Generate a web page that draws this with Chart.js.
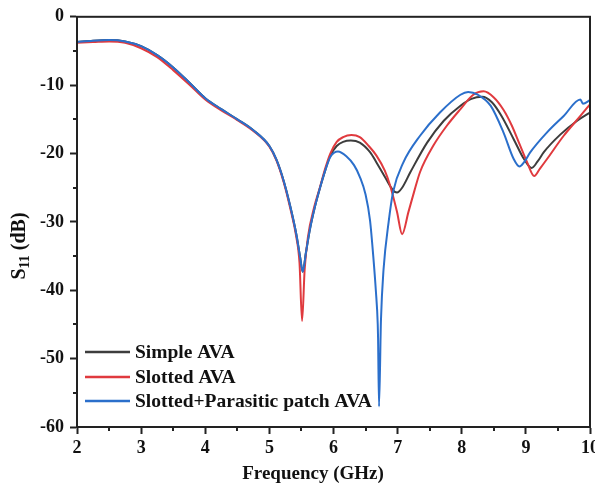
<!DOCTYPE html>
<html>
<head>
<meta charset="utf-8">
<script src="https://cdn.jsdelivr.net/npm/chart.js@4.4.0/dist/chart.umd.min.js"></script>
<style>
    html, body { margin: 0; padding: 0; background: #fff; overflow: hidden; }
    #wrap { position: relative; width: 610px; height: 492px; }
</style>
</head>
<body>
<div id="wrap"><canvas id="s11Chart"></canvas></div>
<script>
// --- Data ---
const seriesNames = ['Simple AVA', 'Slotted AVA', 'Slotted+Parasitic patch AVA'];
const seriesColors = ['#3d3d3d', '#e03a3e', '#2b6fcb'];

const simpleFreq = [2.0, 2.25, 2.5, 2.75, 3.0, 3.25, 3.5, 3.75, 4.0, 4.25, 4.5, 4.75, 5.0, 5.11, 5.22, 5.32, 5.42, 5.48, 5.52, 5.57, 5.63, 5.71, 5.79, 5.87, 5.95, 6.05, 6.15, 6.27, 6.41, 6.57, 6.67, 6.8, 6.93, 6.99, 7.07, 7.2, 7.46, 7.72, 7.98, 8.15, 8.32, 8.47, 8.62, 8.81, 8.97, 9.09, 9.18, 9.28, 9.54, 9.8, 10.0];
const simpleS11 = [-3.7, -3.5, -3.4, -3.6, -4.3, -5.6, -7.4, -9.6, -11.9, -13.5, -15.0, -16.6, -18.9, -20.9, -23.9, -27.5, -31.8, -35.2, -37.3, -34.5, -31.2, -27.8, -25.0, -22.5, -20.3, -18.9, -18.3, -18.1, -18.4, -19.8, -21.3, -23.4, -25.4, -25.7, -25.0, -22.7, -18.4, -15.2, -13.0, -12.0, -11.7, -12.5, -14.5, -17.9, -20.8, -22.1, -21.2, -19.8, -17.2, -15.2, -14.0];

const slottedFreq = [2.0, 2.25, 2.5, 2.75, 3.0, 3.25, 3.5, 3.75, 4.0, 4.25, 4.5, 4.75, 5.0, 5.11, 5.22, 5.32, 5.42, 5.47, 5.51, 5.55, 5.6, 5.7, 5.79, 5.87, 5.95, 6.05, 6.15, 6.28, 6.41, 6.55, 6.67, 6.8, 6.88, 6.99, 7.07, 7.17, 7.26, 7.35, 7.56, 7.77, 7.98, 8.18, 8.34, 8.5, 8.65, 8.78, 8.9, 9.02, 9.13, 9.22, 9.33, 9.59, 9.85, 10.0];
const slottedS11 = [-3.8, -3.7, -3.6, -3.8, -4.6, -5.9, -7.8, -9.9, -12.1, -13.7, -15.1, -16.7, -19.0, -21.0, -24.1, -27.8, -32.2, -36.0, -44.5, -37.0, -32.3, -27.8, -24.9, -22.2, -20.0, -18.3, -17.6, -17.3, -17.6, -18.9, -20.3, -22.5, -24.6, -28.5, -31.8, -28.5, -25.5, -22.7, -18.8, -15.9, -13.5, -11.4, -10.9, -11.8, -13.6, -15.9, -18.6, -21.3, -23.3, -22.2, -20.8, -17.4, -14.5, -12.8];

const parasiticFreq = [2.0, 2.25, 2.5, 2.75, 3.0, 3.25, 3.5, 3.75, 4.0, 4.25, 4.5, 4.75, 5.0, 5.11, 5.22, 5.32, 5.42, 5.48, 5.52, 5.57, 5.63, 5.71, 5.79, 5.87, 5.95, 6.07, 6.2, 6.32, 6.41, 6.5, 6.57, 6.62, 6.66, 6.69, 6.695, 6.71, 6.74, 6.78, 6.86, 6.93, 7.09, 7.35, 7.66, 7.98, 8.1, 8.25, 8.45, 8.65, 8.81, 8.9, 8.97, 9.07, 9.33, 9.59, 9.85, 9.89, 10.0];
const parasiticS11 = [-3.7, -3.5, -3.4, -3.6, -4.3, -5.6, -7.4, -9.6, -11.9, -13.5, -15.0, -16.6, -18.9, -20.9, -23.9, -27.5, -31.8, -35.2, -37.3, -34.5, -31.2, -27.8, -25.0, -22.5, -20.5, -19.7, -20.4, -21.7, -23.4, -26.0, -29.8, -35.0, -40.0, -45.0, -47.0, -57.0, -44.4, -37.0, -30.0, -25.6, -21.3, -17.4, -14.0, -11.4, -11.0, -11.4, -13.0, -16.9, -20.8, -21.9, -21.3, -19.8, -16.9, -14.5, -12.1, -12.7, -12.2];

const xTicks = [2, 3, 4, 5, 6, 7, 8, 9, 10];
const yTicks = [0, -10, -20, -30, -40, -50, -60];

// --- Styles ---
const axisColor = '#222222';
const serif = "'Liberation Serif', 'Times New Roman', serif";

function toPoints(xs, ys) {
    return xs.map((x, i) => ({ x: x, y: ys[i] }));
}

const freqs = [simpleFreq, slottedFreq, parasiticFreq];
const values = [simpleS11, slottedS11, parasiticS11];

const datasets = seriesNames.map((name, i) => ({
    label: name,
    data: toPoints(freqs[i], values[i]),
    borderColor: seriesColors[i],
    borderWidth: 2,
    pointRadius: 0,
    fill: false,
    cubicInterpolationMode: 'monotone',
    order: 2 - i   // blue on top, black at the bottom
}));

// Frame, minor ticks, axis titles and legend
const decorPlugin = {
    id: 'decor',
    afterDraw(chart) {
        const { ctx, chartArea: a, scales } = chart;
        ctx.save();

        // box round the plot
        ctx.strokeStyle = axisColor;
        ctx.lineWidth = 2;
        ctx.strokeRect(a.left, a.top, a.right - a.left, a.bottom - a.top);

        // minor ticks half way between the majors
        ctx.beginPath();
        for (let i = 0; i < xTicks.length - 1; i++) {
            const px = Math.round(scales.x.getPixelForValue((xTicks[i] + xTicks[i + 1]) / 2));
            ctx.moveTo(px, a.bottom);
            ctx.lineTo(px, a.bottom + 4);
        }
        for (let i = 0; i < yTicks.length - 1; i++) {
            const py = Math.round(scales.y.getPixelForValue((yTicks[i] + yTicks[i + 1]) / 2));
            ctx.moveTo(a.left, py);
            ctx.lineTo(a.left - 4, py);
        }
        ctx.stroke();

        ctx.fillStyle = '#111';

        // x title (sits a bit left of centre in the original)
        ctx.font = 'bold 19px ' + serif;
        ctx.textAlign = 'center';
        ctx.textBaseline = 'middle';
        ctx.fillText('Frequency (GHz)', 313, 474);

        // y title: S11 (dB), with subscript
        ctx.save();
        ctx.translate(20, 246);
        ctx.rotate(-Math.PI / 2);
        const big = 'bold 20px ' + serif;
        const small = 'bold 14px ' + serif;
        ctx.font = big;
        const wS = ctx.measureText('S').width;
        const wRest = ctx.measureText(' (dB)').width;
        ctx.font = small;
        const wSub = ctx.measureText('11').width;
        const x0 = -(wS + wSub + wRest) / 2;
        ctx.textAlign = 'left';
        ctx.font = big;
        ctx.fillText('S', x0, 0);
        ctx.font = small;
        ctx.fillText('11', x0 + wS, 5);
        ctx.font = big;
        ctx.fillText(' (dB)', x0 + wS + wSub, 0);
        ctx.restore();

        // legend, lower left inside the plot
        const rows = [a.bottom - 75, a.bottom - 50, a.bottom - 26];
        ctx.font = 'bold 19.5px ' + serif;
        ctx.textBaseline = 'middle';
        ctx.textAlign = 'left';
        seriesNames.forEach((name, i) => {
            ctx.strokeStyle = seriesColors[i];
            ctx.lineWidth = 2.5;
            ctx.beginPath();
            ctx.moveTo(a.left + 8, rows[i]);
            ctx.lineTo(a.left + 53, rows[i]);
            ctx.stroke();
            ctx.fillStyle = '#111';
            ctx.fillText(name, a.left + 58, rows[i] + 1);
        });

        ctx.restore();
    }
};

const ctxS11 = document.getElementById('s11Chart').getContext('2d');
new Chart(ctxS11, {
    type: 'line',
    data: { datasets: datasets },
    plugins: [decorPlugin],
    options: {
        responsive: true,
        maintainAspectRatio: false,
        animation: false,
        layout: { padding: { top: 13, right: 20, bottom: 0, left: 0 } },
        plugins: {
            legend: { display: false },
            tooltip: { enabled: false }
        },
        scales: {
            x: {
                type: 'linear',
                min: 2,
                max: 10,
                afterBuildTicks: (s) => { s.ticks = xTicks.map(v => ({ value: v })); },
                afterFit: (s) => { s.height = 65; },
                grid: { drawOnChartArea: false, tickLength: 7, tickColor: axisColor, tickWidth: 2 },
                border: { color: axisColor, width: 2 },
                ticks: {
                    color: '#111',
                    padding: 4,
                    maxRotation: 0,
                    font: { family: serif, size: 18, weight: 'bold' }
                }
            },
            y: {
                min: -60,
                max: 0,
                afterBuildTicks: (s) => { s.ticks = yTicks.map(v => ({ value: v })); },
                afterFit: (s) => { s.width = 77; },
                grid: { drawOnChartArea: false, tickLength: 7, tickColor: axisColor, tickWidth: 2 },
                border: { color: axisColor, width: 2 },
                ticks: {
                    color: '#111',
                    padding: 6,
                    font: { family: serif, size: 18, weight: 'bold' }
                }
            }
        }
    }
});
</script>
</body>
</html>
